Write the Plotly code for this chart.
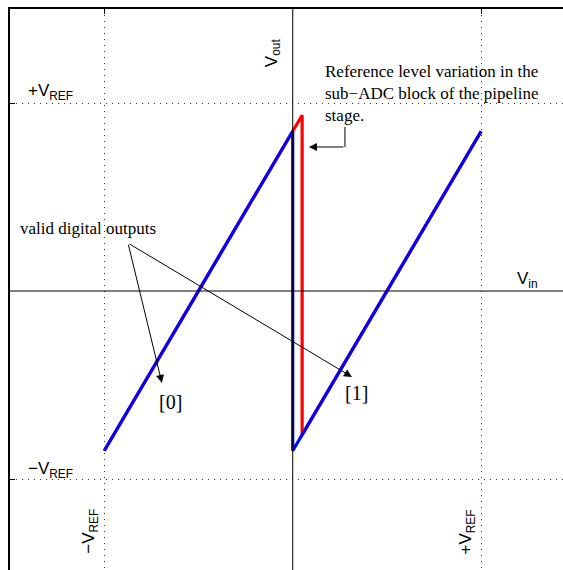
import plotly.graph_objects as go

# Residue transfer curve of a 1-bit pipeline stage (normalised to VREF)
vin_ideal = [-1.0, 0.0, 0.0, 1.0]
vout_ideal = [-0.85, 0.85, -0.85, 0.85]

# Same curve with the sub-ADC comparator threshold shifted
vin_shifted = [-1.0, 0.05, 0.05, 1.0]
vout_shifted = [-0.85, 0.935, -0.765, 0.85]

grid_vals = [-1, 1]

SANS = "Liberation Sans, Arial, sans-serif"
SERIF = "Liberation Serif, Times New Roman, serif"

fig = go.Figure()
fig.add_trace(go.Scatter(x=vin_shifted, y=vout_shifted, mode="lines",
                         line=dict(color="#ff0000", width=3.2), hoverinfo="skip"))
fig.add_trace(go.Scatter(x=vin_ideal, y=vout_ideal, mode="lines",
                         line=dict(color="#0000ff", width=3.2), hoverinfo="skip"))

# coordinate axes through the origin, drawn over the curves
fig.add_shape(type="line", xref="x", yref="paper", x0=0, x1=0, y0=0, y1=1,
              line=dict(color="black", width=1), layer="above")
fig.add_shape(type="line", xref="paper", yref="y", x0=0, x1=1, y0=0, y1=0,
              line=dict(color="black", width=1), layer="above")

ann = []
def txt(x, y, s, size=17, font=SANS, angle=0, xanchor="center", yanchor="middle", align="center"):
    ann.append(dict(x=x, y=y, xref="x", yref="y", text=s, showarrow=False,
                    textangle=angle, xanchor=xanchor, yanchor=yanchor, align=align,
                    font=dict(family=font, size=size, color="black")))

txt(-1.285, 1.06, "+V<sub>REF</sub>")
txt(-1.285, -0.95, "\u2212V<sub>REF</sub>")
txt(-1.075, -1.28, "\u2212V<sub>REF</sub>", angle=-90)
txt(0.924, -1.28, "+V<sub>REF</sub>", angle=-90)
txt(-0.105, 1.27, "V<sub>out</sub>", angle=-90)
txt(1.245, 0.06, "V<sub>in</sub>")
txt(0.16, 1.05, "Reference level variation in the<br>sub\u2212ADC block of the pipeline<br>stage.",
    size=17, font=SERIF, xanchor="left", align="left")
txt(-1.46, 0.335, "valid digital outputs", size=17, font=SERIF, xanchor="left")
txt(-0.651, -0.59, "[0]", size=20, font=SERIF)
txt(0.341, -0.543, "[1]", size=20, font=SERIF)

def arrow(x_tail, y_tail, x_head, y_head):
    ann.append(dict(x=x_head, y=y_head, ax=x_tail, ay=y_tail, xref="x", yref="y",
                    axref="x", ayref="y", text="", showarrow=True, arrowhead=2,
                    arrowsize=1.6, arrowwidth=1, arrowcolor="black"))

arrow(-0.874, 0.255, -0.694, -0.489)
arrow(-0.874, 0.255, 0.314, -0.457)

# bent leader to the shifted threshold
fig.add_shape(type="line", xref="x", yref="y", x0=0.277, x1=0.277, y0=0.872, y1=0.766,
              line=dict(color="black", width=1))
arrow(0.277, 0.766, 0.086, 0.766)

axis_common = dict(showline=True, linecolor="black", tickvals=grid_vals,
                   showticklabels=False, ticks="inside", ticklen=5, tickcolor="black",
                   showgrid=True, griddash="1px,5px", gridcolor="#333", gridwidth=1,
                   zeroline=False, fixedrange=True)

fig.update_layout(
    width=563, height=570,
    margin=dict(l=10, r=0, t=9, b=0),
    paper_bgcolor="white", plot_bgcolor="white",
    showlegend=False,
    annotations=ann,
    xaxis=dict(range=[-1.5, 1.434], side="top", linewidth=1.5, **axis_common),
    yaxis=dict(range=[-1.484, 1.5], linewidth=2, **axis_common),
)

fig.write_html("out.html")
